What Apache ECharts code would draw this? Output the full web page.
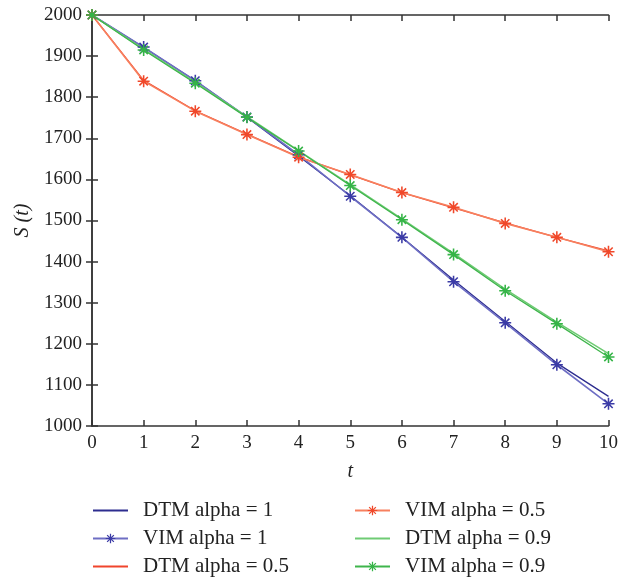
<!DOCTYPE html>
<html>
<head>
<meta charset="utf-8">
<script src="https://cdn.jsdelivr.net/npm/echarts@6/dist/echarts.min.js"></script>
<style>html,body{margin:0;padding:0;background:#fff}#c{width:621px;height:580px}</style>
</head>
<body>
<div id="c"></div>
<script>
var tValues = [0,1,2,3,4,5,6,7,8,9,10];
var dtmAlpha1  = [2000,1921,1840,1751,1657,1560,1459,1355,1254,1153,1072];
var vimAlpha1  = [2000,1922,1840,1752,1660,1559,1459,1351,1251,1149,1054];
var dtmAlpha05 = [2000,1841,1767,1710,1655,1611,1568,1531,1494,1459,1426];
var vimAlpha05 = [2000,1839,1766,1709,1654,1612,1568,1532,1493,1459,1424];
var dtmAlpha09 = [2000,1917,1836,1753,1670,1587,1504,1420,1333,1253,1176];
var vimAlpha09 = [2000,1915,1834,1751,1669,1585,1502,1417,1329,1249,1168];
var seriesNames = ['DTM alpha = 1','VIM alpha = 1','DTM alpha = 0.5','VIM alpha = 0.5','DTM alpha = 0.9','VIM alpha = 0.9'];

var star = 'path://M-5,-0.65 L5,-0.65 L5,0.65 L-5,0.65 Z M-0.65,-5 L0.65,-5 L0.65,5 L-0.65,5 Z M-3.96,-3.04 L-3.04,-3.96 L3.96,3.04 L3.04,3.96 Z M3.04,-3.96 L3.96,-3.04 L-3.04,3.96 L-3.96,3.04 Z';
function pairs(arr){ return arr.map(function(v,i){ return [tValues[i], v]; }); }
var serif = 'Liberation Serif';

function lineSeries(name, data, color, width, marker, markerColor){
  return {
    name: name, type: 'line', data: pairs(data),
    symbol: marker ? star : 'none', symbolSize: 12, showSymbol: !!marker,
    lineStyle: {color: color, width: width},
    itemStyle: {color: marker ? markerColor : color},
    emphasis: {disabled: true}, animation: false
  };
}
function legendItems(names){
  return names.map(function(n){
    if (n.indexOf('DTM') === 0) return {name: n, itemStyle: {opacity: 0}};
    return {name: n};
  });
}

var chart = echarts.init(document.getElementById('c'));
var axisCommonX = {type:'value', min:0, max:10, interval:1};
var axisCommonY = {type:'value', min:1000, max:2000, interval:100};
var legendText = {fontFamily: serif, fontSize: 21, color: '#222', lineHeight: 20, padding: [0,0,0,10]};
chart.setOption({
  backgroundColor: '#fff',
  animation: false,
  grid: {left: 92, right: 9, top: 15, bottom: 154},
  xAxis: [
    Object.assign({}, axisCommonX, {
      position: 'bottom', name: 't', nameLocation: 'middle', nameGap: 36,
      nameTextStyle: {fontFamily: serif, fontStyle: 'italic', fontSize: 20, color: '#222'},
      axisLine: {lineStyle: {color: '#333', width: 1.5}},
      axisTick: {inside: true, length: 6, lineStyle: {color: '#333', width: 1.5}},
      axisLabel: {fontFamily: serif, fontSize: 19, color: '#222', margin: 8},
      splitLine: {show: false}
    }),
    Object.assign({}, axisCommonX, {
      position: 'top',
      axisLine: {lineStyle: {color: '#333', width: 1.5}},
      axisTick: {inside: true, length: 6, lineStyle: {color: '#333', width: 1.5}},
      axisLabel: {show: false}, splitLine: {show: false}
    })
  ],
  yAxis: [
    Object.assign({}, axisCommonY, {
      position: 'left', name: 'S (t)', nameLocation: 'middle', nameGap: 53, nameRotate: 90,
      nameTextStyle: {fontFamily: serif, fontStyle: 'italic', fontSize: 20, color: '#222'},
      axisLine: {lineStyle: {color: '#333', width: 1.5}},
      axisTick: {inside: true, length: 6, lineStyle: {color: '#333', width: 1.5}},
      axisLabel: {fontFamily: serif, fontSize: 19, color: '#222', margin: 10,
                  formatter: function(v){ return String(v); }},
      splitLine: {show: false}
    }),
    Object.assign({}, axisCommonY, {
      position: 'right',
      axisLine: {lineStyle: {color: '#333', width: 1.5}},
      axisTick: {inside: true, length: 6, lineStyle: {color: '#333', width: 1.5}},
      axisLabel: {show: false}, splitLine: {show: false}
    })
  ],
  legend: [
    {
      data: legendItems(seriesNames.slice(0,3)), orient: 'vertical', left: 92, top: 500, height: 90,
      itemWidth: 35, itemHeight: 12, itemGap: 7, selectedMode: false, padding: 0,
      textStyle: legendText
    },
    {
      data: legendItems(seriesNames.slice(3)), orient: 'vertical', left: 354, top: 500, height: 90,
      itemWidth: 35, itemHeight: 12, itemGap: 7, selectedMode: false, padding: 0,
      textStyle: legendText
    }
  ],
  series: [
    lineSeries(seriesNames[0], dtmAlpha1, '#2d2d8f', 1.3, false),
    lineSeries(seriesNames[1], vimAlpha1, '#6e6ec4', 1.6, true, '#3b3ba6'),
    lineSeries(seriesNames[2], dtmAlpha05, '#f0452c', 1.3, false),
    lineSeries(seriesNames[3], vimAlpha05, '#f7805f', 1.6, true, '#f0482a'),
    lineSeries(seriesNames[4], dtmAlpha09, '#6fcb74', 1.5, false),
    lineSeries(seriesNames[5], vimAlpha09, '#3fb54c', 1.3, true, '#35b447')
  ]
});
</script>
</body>
</html>
